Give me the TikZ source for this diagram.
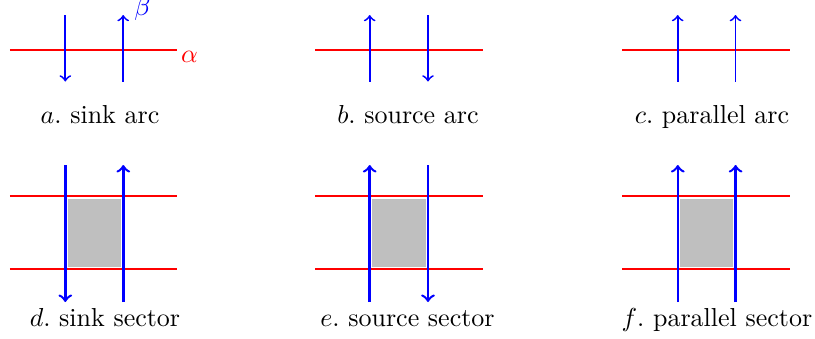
\documentclass[tikz,border=0pt]{standalone}
\usetikzlibrary{arrows}
\begin{document}
\begin{tikzpicture}[x=0.3846pt,y=-0.3846pt,
  redline/.style={draw=red,line width=0.7pt},
  arcflow/.style={draw=blue,line width=0.7pt,-to},
  secflow/.style={draw=blue,line width=0.95pt,-to},
  sector/.style={fill=gray!50,draw=none},
  caption/.style={anchor=base,inner sep=0pt}]
\useasboundingbox (0,0) rectangle (815,338);
% ---------- a. sink arc ----------
\coordinate (a1) at (10,49.7); \coordinate (a2) at (177,49.7);
\coordinate (aLt) at (65.3,15); \coordinate (aLb) at (65.3,81.5);
\coordinate (aRt) at (123.2,15); \coordinate (aRb) at (123.2,81.5);
\draw[redline] (a1) -- (a2);
\draw[arcflow] (aLt) -- (aLb);
\draw[arcflow] (aRb) -- (aRt);
\node[text=red,inner sep=0pt] (alpha) at (189.5,56.5) {$\alpha$};
\node[text=blue,anchor=base,inner sep=0pt] (beta) at (142.5,15.5) {$\beta$};
\node[caption] (capa) at (100,123.5) {$a$.\ sink arc};
% ---------- b. source arc ----------
\coordinate (b1) at (315,49.7); \coordinate (b2) at (482.5,49.7);
\coordinate (bLt) at (369.7,15); \coordinate (bLb) at (369.7,81.5);
\coordinate (bRt) at (428,15); \coordinate (bRb) at (428,81.5);
\draw[redline] (b1) -- (b2);
\draw[arcflow] (bLb) -- (bLt);
\draw[arcflow] (bRt) -- (bRb);
\node[caption] (capb) at (408,123.5) {$b$.\ source arc};
% ---------- c. parallel arc ----------
\coordinate (c1) at (622,49.7); \coordinate (c2) at (790,49.7);
\coordinate (cLt) at (677.7,15); \coordinate (cLb) at (677.7,81.5);
\coordinate (cRt) at (735.5,15); \coordinate (cRb) at (735.5,81.5);
\draw[redline] (c1) -- (c2);
\draw[arcflow] (cLb) -- (cLt);
\draw[arcflow] (cRb) -- (cRt);
\node[caption] (capc) at (712,123.5) {$c$.\ parallel arc};
% ---------- d. sink sector ----------
\fill[sector] (67.7,198.7) rectangle (121,266.7);
\draw[redline] (10,196) -- (177,196);
\draw[redline] (10,269) -- (177,269);
\coordinate (dLt) at (65.3,165); \coordinate (dLb) at (65.3,302);
\coordinate (dRt) at (123.3,165); \coordinate (dRb) at (123.3,302);
\draw[secflow] (dLt) -- (dLb);
\draw[secflow] (dRb) -- (dRt);
\node[caption] (capd) at (105,326.7) {$d$.\ sink sector};
% ---------- e. source sector ----------
\fill[sector] (372.2,198.7) rectangle (425.6,266.7);
\draw[redline] (315,196) -- (482.5,196);
\draw[redline] (315,269) -- (482.5,269);
\coordinate (eLt) at (369.7,165); \coordinate (eLb) at (369.7,302);
\coordinate (eRt) at (428,165); \coordinate (eRb) at (428,302);
\draw[secflow] (eLb) -- (eLt);
\draw[secflow] (eRt) -- (eRb);
\node[caption] (cape) at (407.5,326.7) {$e$.\ source sector};
% ---------- f. parallel sector ----------
\fill[sector] (680.2,198.7) rectangle (733.2,266.7);
\draw[redline] (622,196) -- (790,196);
\draw[redline] (622,269) -- (790,269);
\coordinate (fLt) at (677.8,165); \coordinate (fLb) at (677.8,302);
\coordinate (fRt) at (735.6,165); \coordinate (fRb) at (735.6,302);
\draw[secflow] (fLb) -- (fLt);
\draw[secflow] (fRb) -- (fRt);
\node[caption] (capf) at (717,326.7) {$f$.\ parallel sector};
\end{tikzpicture}
\end{document}
